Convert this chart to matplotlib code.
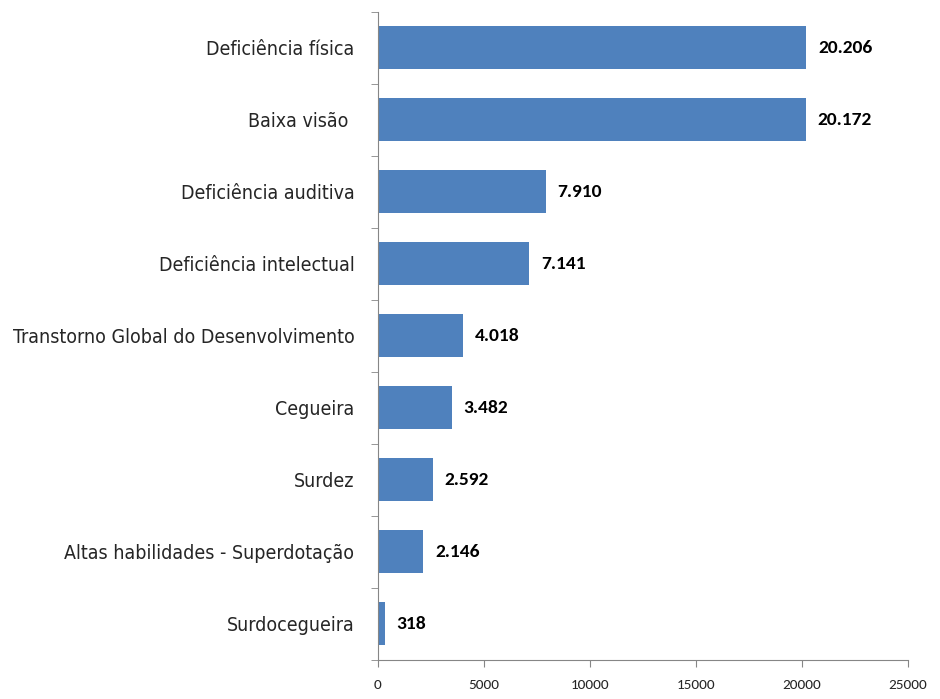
import numpy as np
import matplotlib.pyplot as plt
from matplotlib.ticker import FixedLocator

categorias = [
    "Deficiência física",
    "Baixa visão ",
    "Deficiência auditiva",
    "Deficiência intelectual",
    "Transtorno Global do Desenvolvimento",
    "Cegueira",
    "Surdez",
    "Altas habilidades - Superdotação",
    "Surdocegueira",
]
valores = [20206, 20172, 7910, 7141, 4018, 3482, 2592, 2146, 318]
rotulos = ["20.206", "20.172", "7.910", "7.141", "4.018", "3.482", "2.592", "2.146", "318"]
xticks = [0, 5000, 10000, 15000, 20000, 25000]

BAR_COLOR = "#4f81bd"
TEXT_COLOR = "#262626"
AXIS_COLOR = "#868686"

fig = plt.figure(figsize=(9.4, 6.99), dpi=100)
ax = fig.add_axes([0.402, 0.056, 0.564, 0.927])

y = np.arange(len(categorias))
ax.barh(y, valores, height=0.6, color=BAR_COLOR)
ax.set_ylim(len(categorias) - 0.5, -0.5)
ax.set_xlim(0, 25000)

# rotulos de valor ao lado das barras
for yi, v, r in zip(y, valores, rotulos):
    ax.text(v + 550, yi, r, va="center", ha="left", fontsize=14,
            fontweight="bold", color="black", family=["Carlito", "Liberation Sans", "DejaVu Sans"])

ax.set_yticks(y)
ax.set_yticklabels(categorias, fontsize=14, color=TEXT_COLOR,
                   family=["DejaVu Sans"], fontstretch="condensed")
ax.yaxis.set_minor_locator(FixedLocator(np.arange(-0.5, len(categorias), 1)))
ax.tick_params(axis="y", which="major", length=0, pad=17)
ax.tick_params(axis="y", which="minor", length=5, color=AXIS_COLOR)

ax.set_xticks(xticks)
ax.set_xticklabels([str(t) for t in xticks], fontsize=11, color=TEXT_COLOR,
                   family=["Carlito", "Liberation Sans", "DejaVu Sans"])
ax.tick_params(axis="x", length=5, color=AXIS_COLOR, pad=9)

for s in ["top", "right"]:
    ax.spines[s].set_visible(False)
for s in ["left", "bottom"]:
    ax.spines[s].set_color(AXIS_COLOR)

fig.savefig("out.png", dpi=100)
